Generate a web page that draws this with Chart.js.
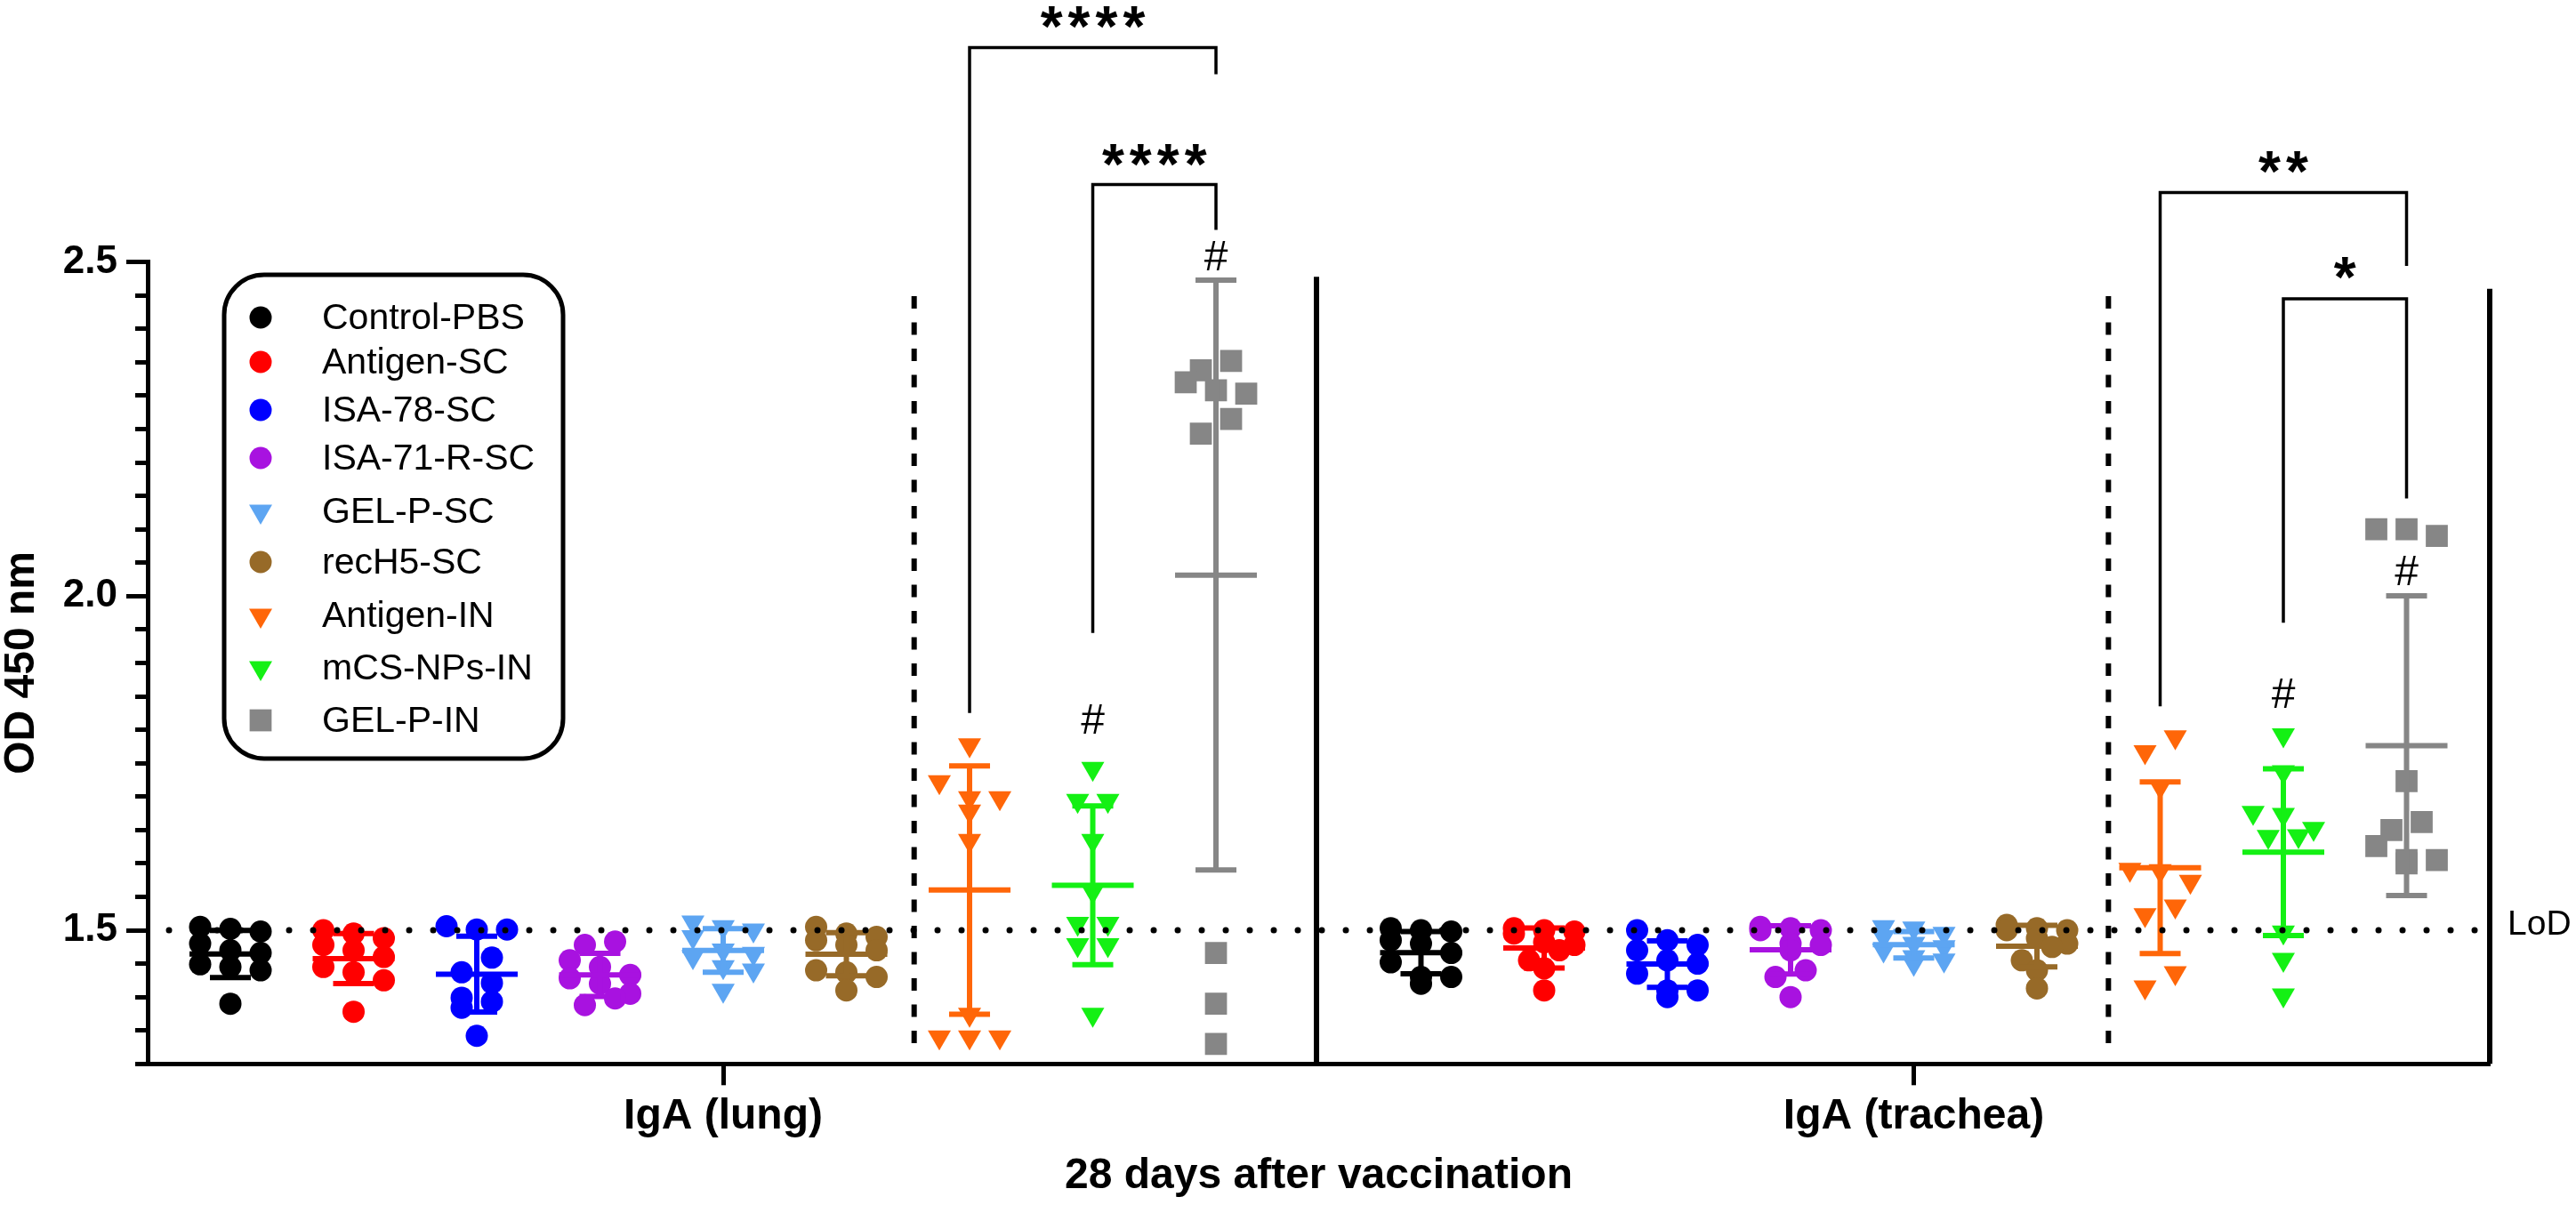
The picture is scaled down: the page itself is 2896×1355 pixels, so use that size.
<!DOCTYPE html>
<html>
<head>
<meta charset="utf-8">
<script src="https://cdn.jsdelivr.net/npm/chart.js@4.4.1/dist/chart.umd.min.js"></script>
<style>
  html, body { margin: 0; padding: 0; background: #fff; }
  #wrap { width: 2896px; height: 1355px; }
</style>
</head>
<body>
<div id="wrap"><canvas id="grafico"></canvas></div>
<script>
// groups, in plotting order
const grupos = ["Control-PBS", "Antigen-SC", "ISA-78-SC", "ISA-71-R-SC", "GEL-P-SC", "recH5-SC", "Antigen-IN", "mCS-NPs-IN", "GEL-P-IN"];
const tecidos = ["IgA (lung)", "IgA (trachea)"];
const cores = ["#000000", "#ff0000", "#0000ff", "#a812e0", "#5da5f2", "#976a28", "#ff6608", "#14f014", "#868686"];
const simbolos = ["circle", "circle", "circle", "circle", "triangle", "circle", "triangle", "triangle", "rect"];

// OD 450 nm, lung
const lungCtrlPBS = [1.505, 1.502, 1.498, 1.480, 1.470, 1.466, 1.449, 1.445, 1.440, 1.390];
const lungAgSC    = [1.500, 1.495, 1.488, 1.478, 1.470, 1.460, 1.445, 1.437, 1.425, 1.378];
const lungIsa78   = [1.506, 1.501, 1.501, 1.459, 1.437, 1.421, 1.399, 1.393, 1.384, 1.342];
const lungIsa71   = [1.483, 1.478, 1.455, 1.445, 1.433, 1.428, 1.420, 1.405, 1.398, 1.388];
const lungGelSC   = [1.512, 1.505, 1.500, 1.490, 1.470, 1.465, 1.460, 1.445, 1.440, 1.410];
const lungRecH5   = [1.505, 1.495, 1.490, 1.485, 1.478, 1.470, 1.440, 1.437, 1.430, 1.410];
const lungAgIN    = [1.777, 1.722, 1.698, 1.698, 1.678, 1.634, 1.374, 1.340, 1.340, 1.340];
const lungNpIN    = [1.742, 1.694, 1.694, 1.634, 1.558, 1.510, 1.510, 1.478, 1.478, 1.374];
const lungGelIN   = [2.352, 2.338, 2.320, 2.308, 2.303, 2.265, 2.243, 1.466, 1.390, 1.330];

// OD 450 nm, trachea
const trCtrlPBS = [1.503, 1.500, 1.498, 1.485, 1.480, 1.466, 1.452, 1.430, 1.430, 1.420];
const trAgSC    = [1.503, 1.500, 1.498, 1.495, 1.482, 1.478, 1.470, 1.455, 1.443, 1.410];
const trIsa78   = [1.500, 1.485, 1.478, 1.470, 1.455, 1.450, 1.435, 1.410, 1.410, 1.400];
const trIsa71   = [1.505, 1.503, 1.500, 1.500, 1.480, 1.478, 1.470, 1.440, 1.430, 1.400];
const trGelSC   = [1.505, 1.503, 1.495, 1.490, 1.480, 1.475, 1.470, 1.460, 1.455, 1.450];
const trRecH5   = [1.508, 1.503, 1.500, 1.500, 1.488, 1.480, 1.475, 1.455, 1.440, 1.413];
const trAgIN    = [1.789, 1.767, 1.715, 1.591, 1.589, 1.573, 1.536, 1.523, 1.436, 1.415];
const trNpIN    = [1.792, 1.737, 1.676, 1.673, 1.652, 1.641, 1.640, 1.497, 1.456, 1.403];
const trGelIN   = [2.100, 2.100, 2.090, 1.723, 1.662, 1.650, 1.626, 1.605, 1.605, 1.600];

const yTicks = [1.5, 2.0, 2.5];
const limiteDeteccao = 1.5;

const lungSets = [lungCtrlPBS, lungAgSC, lungIsa78, lungIsa71, lungGelSC, lungRecH5, lungAgIN, lungNpIN, lungGelIN];
const trSets = [trCtrlPBS, trAgSC, trIsa78, trIsa71, trGelSC, trRecH5, trAgIN, trNpIN, trGelIN];

// significance brackets (group indices, levels in OD units)
const colchetes = [
  { tecido: 0, de: 6, ate: 8, topo: 2.821, fimEsq: 1.825, fimDir: 2.781, texto: "****", textoY: 2.872 },
  { tecido: 0, de: 7, ate: 8, topo: 2.616, fimEsq: 1.945, fimDir: 2.548, texto: "****", textoY: 2.666 },
  { tecido: 1, de: 6, ate: 8, topo: 2.604, fimEsq: 1.835, fimDir: 2.494, texto: "**", textoY: 2.655 },
  { tecido: 1, de: 7, ate: 8, topo: 2.445, fimEsq: 1.960, fimDir: 2.146, texto: "*", textoY: 2.497 }
];
const cerquilhas = [
  { tecido: 0, grupo: 7, y: 1.817 },
  { tecido: 0, grupo: 8, y: 2.510 },
  { tecido: 1, grupo: 7, y: 1.855 },
  { tecido: 1, grupo: 8, y: 2.039 }
];

// layout of the x axis, in group slots
const TR_OFFSET = 9.664;
const X_MIN = -0.6715;
const X_MAX = 18.339;
const PX_X = 138.5;
const PX_Y = 751.4;
const PASSO = 34;
const FONTE = '"Liberation Sans", Arial, Helvetica, sans-serif';
const raios = { circle: 12.5, triangle: 15, rect: 17.5 };
const legendaLinhas = [357, 407, 461, 515, 575, 632, 692, 751, 810];

Chart.defaults.font.family = FONTE;
Chart.defaults.color = "#000";

// Prism-like scatter spread: rows of close values, spread sideways
function espalhar(valores, centro) {
  const ordenados = valores.slice().sort((a, b) => b - a);
  const linhas = [];
  let linha = [];
  for (const v of ordenados) {
    if (linha.length && (linha.length >= 3 || (linha[0] - v) * PX_Y > 20)) {
      linhas.push(linha);
      linha = [];
    }
    linha.push(v);
  }
  if (linha.length) linhas.push(linha);

  const pontos = [];
  linhas.forEach(l => {
    const n = l.length;
    const slots = n === 1 ? [0] : n === 2 ? [0.5, -0.5] : [-1, 0, 1];
    l.forEach((v, i) => {
      pontos.push({ x: centro + slots[i] * PASSO / PX_X, y: v });
    });
  });
  return pontos;
}

function mediaDp(arr) {
  const m = arr.reduce((a, b) => a + b, 0) / arr.length;
  const dp = Math.sqrt(arr.reduce((a, b) => a + (b - m) ** 2, 0) / (arr.length - 1));
  return [m, dp];
}

function posGrupo(tecido, g) {
  return (tecido === 0 ? 0 : TR_OFFSET) + g;
}

const datasets = grupos.map((nome, g) => ({
  label: nome,
  data: espalhar(lungSets[g], posGrupo(0, g)).concat(espalhar(trSets[g], posGrupo(1, g))),
  pointStyle: simbolos[g],
  pointRadius: raios[simbolos[g]],
  pointRotation: simbolos[g] === "triangle" ? 180 : 0,
  pointBackgroundColor: cores[g],
  pointBorderColor: cores[g],
  pointBorderWidth: 0
}));

function marcador(ctx, estilo, cor, x, y) {
  ctx.fillStyle = cor;
  Chart.helpers.drawPoint(ctx, {
    pointStyle: estilo,
    radius: raios[estilo],
    rotation: estilo === "triangle" ? 180 : 0,
    borderWidth: 0
  }, x, y);
}

const extras = {
  id: "extras",
  afterDatasetsDraw(chart) {
    const { ctx, chartArea: area, scales: { x, y } } = chart;
    ctx.save();

    // mean with SD
    ctx.lineWidth = 6;
    ctx.lineCap = "butt";
    grupos.forEach((nome, g) => {
      [lungSets[g], trSets[g]].forEach((vals, t) => {
        const [m, dp] = mediaDp(vals);
        const cx = x.getPixelForValue(posGrupo(t, g));
        const yM = y.getPixelForValue(m);
        const yA = y.getPixelForValue(m + dp);
        const yB = y.getPixelForValue(m - dp);
        ctx.strokeStyle = cores[g];
        ctx.beginPath();
        ctx.moveTo(cx, yA); ctx.lineTo(cx, yB);
        ctx.moveTo(cx - 23, yA); ctx.lineTo(cx + 23, yA);
        ctx.moveTo(cx - 23, yB); ctx.lineTo(cx + 23, yB);
        ctx.moveTo(cx - 46, yM); ctx.lineTo(cx + 46, yM);
        ctx.stroke();
      });
    });

    // separators
    ctx.strokeStyle = "#000";
    ctx.lineWidth = 6;
    ctx.beginPath();
    let sx = x.getPixelForValue(8.816);
    ctx.moveTo(sx, y.getPixelForValue(2.478)); ctx.lineTo(sx, area.bottom);
    ctx.moveTo(area.right, y.getPixelForValue(2.46)); ctx.lineTo(area.right, area.bottom);
    ctx.stroke();

    ctx.setLineDash([14, 15.5]);
    ctx.beginPath();
    [5.55, TR_OFFSET + 5.58].forEach(v => {
      const dx = x.getPixelForValue(v);
      ctx.moveTo(dx, y.getPixelForValue(2.449));
      ctx.lineTo(dx, y.getPixelForValue(1.322));
    });
    ctx.stroke();

    // LoD dotted line
    ctx.setLineDash([0, 27]);
    ctx.lineCap = "round";
    ctx.lineWidth = 7;
    const yL = y.getPixelForValue(limiteDeteccao);
    ctx.beginPath();
    ctx.moveTo(x.getPixelForValue(-0.498), yL);
    ctx.lineTo(x.getPixelForValue(18.224), yL);
    ctx.stroke();
    ctx.setLineDash([]);
    ctx.lineCap = "butt";

    ctx.fillStyle = "#000";
    ctx.font = "39px " + FONTE;
    ctx.textAlign = "left";
    ctx.textBaseline = "alphabetic";
    ctx.fillText("LoD", area.right + 20, yL + 5);

    // brackets
    ctx.lineWidth = 3.5;
    colchetes.forEach(c => {
      const x1 = x.getPixelForValue(posGrupo(c.tecido, c.de));
      const x2 = x.getPixelForValue(posGrupo(c.tecido, c.ate));
      const yt = y.getPixelForValue(c.topo);
      ctx.beginPath();
      ctx.moveTo(x1, y.getPixelForValue(c.fimEsq));
      ctx.lineTo(x1, yt);
      ctx.lineTo(x2, yt);
      ctx.lineTo(x2, y.getPixelForValue(c.fimDir));
      ctx.stroke();
      ctx.font = "bold 64px " + FONTE;
      ctx.textAlign = "center";
      ctx.letterSpacing = "6px";
      ctx.fillText(c.texto, (x1 + x2) / 2 + 3, y.getPixelForValue(c.textoY) + 0.58 * 64);
      ctx.letterSpacing = "0px";
    });

    ctx.font = "48px " + FONTE;
    ctx.textAlign = "center";
    cerquilhas.forEach(h => {
      ctx.fillText("#", x.getPixelForValue(posGrupo(h.tecido, h.grupo)), y.getPixelForValue(h.y) + 0.35 * 48);
    });

    // legend
    ctx.lineWidth = 5;
    ctx.strokeStyle = "#000";
    ctx.fillStyle = "#fff";
    ctx.beginPath();
    ctx.roundRect(252, 309, 381, 544, 45);
    ctx.fill();
    ctx.stroke();
    ctx.font = "41px " + FONTE;
    ctx.textAlign = "left";
    ctx.textBaseline = "middle";
    grupos.forEach((nome, g) => {
      const ly = legendaLinhas[g];
      marcador(ctx, simbolos[g], cores[g], 293, ly);
      ctx.fillStyle = "#000";
      ctx.fillText(nome, 362, ly + 2);
    });

    ctx.restore();
  }
};

const ctx = document.getElementById("grafico").getContext("2d");
new Chart(ctx, {
  type: "scatter",
  data: { datasets: datasets },
  plugins: [extras],
  options: {
    responsive: true,
    maintainAspectRatio: false,
    animation: false,
    devicePixelRatio: 1,
    events: [],
    layout: { padding: { top: 294.6, right: 97, bottom: 0, left: 0 } },
    plugins: {
      legend: { display: false },
      tooltip: { enabled: false }
    },
    scales: {
      x: {
        type: "linear",
        min: X_MIN,
        max: X_MAX,
        afterBuildTicks: axis => {
          axis.ticks = tecidos.map((t, i) => ({ value: posGrupo(i, 4) }));
        },
        ticks: {
          callback: (v, i) => tecidos[i],
          font: { size: 48, weight: "bold" },
          color: "#000",
          padding: 7,
          autoSkip: false,
          maxRotation: 0
        },
        grid: { drawOnChartArea: false, tickLength: 24, tickWidth: 5, tickColor: "#000" },
        border: { color: "#000", width: 5 },
        title: {
          display: true,
          text: "28 days after vaccination",
          font: { size: 48, weight: "bold" },
          color: "#000",
          padding: { top: 0, bottom: 3 }
        },
        afterFit: axis => { axis.height = 1355 - 1196.3; }
      },
      y: {
        position: "left",
        weight: 1,
        min: 1.3,
        max: 2.5,
        afterBuildTicks: axis => { axis.ticks = yTicks.map(v => ({ value: v })); },
        ticks: {
          callback: v => v.toFixed(1),
          font: { size: 44, weight: "bold" },
          color: "#000",
          padding: 10
        },
        grid: { drawOnChartArea: false, tickLength: 24, tickWidth: 5, tickColor: "#000" },
        border: { color: "#000", width: 5 },
        title: {
          display: true,
          text: "OD 450 nm",
          font: { size: 48, weight: "bold", lineHeight: 1 },
          color: "#000",
          padding: { top: 1, bottom: 0 }
        },
        afterFit: axis => { axis.width = 166; }
      },
      yMinor: {
        position: "left",
        weight: 0,
        min: 1.3,
        max: 2.5,
        ticks: { stepSize: 0.05, display: false },
        grid: { drawOnChartArea: false, tickLength: 14, tickWidth: 5, tickColor: "#000" },
        border: { display: false },
        afterFit: axis => { axis.width = 0; }
      }
    }
  }
});
</script>
</body>
</html>
